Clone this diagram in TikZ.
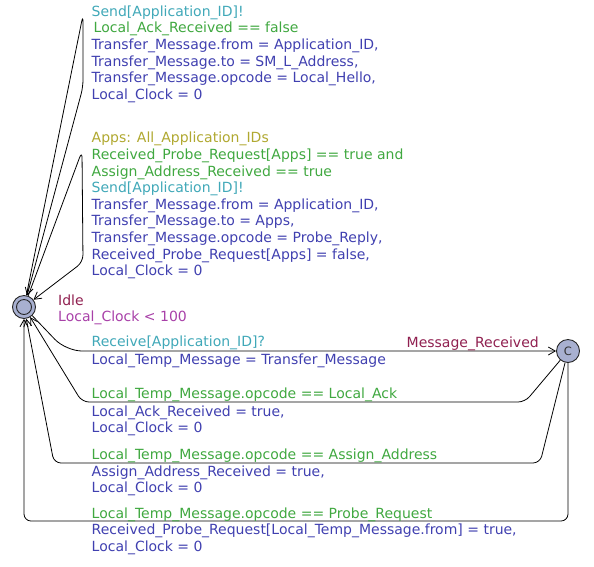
\documentclass[tikz,border=0pt]{standalone}
\usepackage{fontspec}
\setmainfont{DejaVu Sans}
\usetikzlibrary{arrows.meta}
\definecolor{csync}{RGB}{64,168,184}
\definecolor{cguard}{RGB}{64,168,64}
\definecolor{cassign}{RGB}{64,64,176}
\definecolor{csel}{RGB}{176,168,48}
\definecolor{cname}{RGB}{144,32,80}
\definecolor{cinv}{RGB}{168,64,168}
\definecolor{cloc}{RGB}{168,176,208}
\newcommand{\mylab}[5]{\node[lbl,#2,anchor=base west] (#1) at (#3,-#4) {#5};}
\begin{document}
\begin{tikzpicture}[x=1pt,y=1pt,
  lbl/.style={inner sep=0pt, font=\fontsize{14}{16}\selectfont},
  sync/.style={text=csync},
  guard/.style={text=cguard},
  assign/.style={text=cassign},
  sel/.style={text=csel},
  lname/.style={text=cname},
  inv/.style={text=cinv},
  loc/.style={circle, draw=black!85, fill=cloc, line width=0.9pt, minimum size=23pt, inner sep=0pt},
  edge/.style={draw=black, line width=0.8pt, rounded corners=7pt},
  tip/.style={-{Straight Barb[length=7pt,width=8pt]}}
]
\useasboundingbox (0,0) rectangle (594,-566);

% locations
\node[loc] (idle) at (24,-307) {};
\node[circle, draw=black!85, line width=0.9pt, minimum size=15pt, inner sep=0pt] (idlein) at (idle) {};
\node[loc, font=\fontsize{11.5}{12}\selectfont, text=black!80] (msg) at (568,-351) {C};

% edges
\draw[edge,tip] (idle) -- (83,-15) -- (83,-87) -- (idle);
\draw[edge,tip] (idle) -- (82,-151) -- (83,-262) -- (idle);
\draw[edge,tip,rounded corners=16pt] (idle) -- (66,-351) -- (msg);
\draw[edge,tip] (msg) -- (525,-402) -- (82,-402) -- (idle);
\draw[edge,tip] (msg) -- (540,-463) -- (54,-463) -- (idle);
\draw[edge,tip] (msg) -- (568,-521) -- (24,-521) -- (idle);

% loop 1 labels
\mylab{s1}{sync}{91.5}{16.7}{Send[Application\_ID]!}
\mylab{g1}{guard}{93.5}{32}{Local\_Ack\_Received == false}
\mylab{a1a}{assign}{91.5}{49.5}{Transfer\_Message.from = Application\_ID,}
\mylab{a1b}{assign}{91.5}{66.2}{Transfer\_Message.to = SM\_L\_Address,}
\mylab{a1c}{assign}{91.5}{82.9}{Transfer\_Message.opcode = Local\_Hello,}
\mylab{a1d}{assign}{91.5}{99.6}{Local\_Clock = 0}

% loop 2 labels
\mylab{p2}{sel}{91.5}{142}{Apps: All\_Application\_IDs}
\mylab{g2a}{guard}{91.5}{159}{Received\_Probe\_Request[Apps] == true and}
\mylab{g2b}{guard}{91.5}{176}{Assign\_Address\_Received == true}
\mylab{s2}{sync}{91.5}{192.5}{Send[Application\_ID]!}
\mylab{a2a}{assign}{91.5}{209}{Transfer\_Message.from = Application\_ID,}
\mylab{a2b}{assign}{91.5}{225.7}{Transfer\_Message.to = Apps,}
\mylab{a2c}{assign}{91.5}{242.4}{Transfer\_Message.opcode = Probe\_Reply,}
\mylab{a2d}{assign}{91.5}{259.1}{Received\_Probe\_Request[Apps] = false,}
\mylab{a2e}{assign}{91.5}{275.8}{Local\_Clock = 0}

% location labels
\mylab{nidle}{lname}{58}{305}{Idle}
\mylab{iidle}{inv}{58}{321.5}{Local\_Clock < 100}
\mylab{nmsg}{lname}{406.5}{347.5}{Message\_Received}

% edge 3
\mylab{s3}{sync}{91.5}{346.5}{Receive[Application\_ID]?}
\mylab{a3}{assign}{91.5}{364.3}{Local\_Temp\_Message = Transfer\_Message}

% edge 4
\mylab{g4}{guard}{91.5}{398}{Local\_Temp\_Message.opcode == Local\_Ack}
\mylab{a4a}{assign}{91.5}{416}{Local\_Ack\_Received = true,}
\mylab{a4b}{assign}{91.5}{432.8}{Local\_Clock = 0}

% edge 5
\mylab{g5}{guard}{91.5}{459.3}{Local\_Temp\_Message.opcode == Assign\_Address}
\mylab{a5a}{assign}{91.5}{476}{Assign\_Address\_Received = true,}
\mylab{a5b}{assign}{91.5}{492.7}{Local\_Clock = 0}

% edge 6
\mylab{g6}{guard}{91.5}{518.3}{Local\_Temp\_Message.opcode == Probe\_Request}
\mylab{a6a}{assign}{91.5}{534.7}{Received\_Probe\_Request[Local\_Temp\_Message.from] = true,}
\mylab{a6b}{assign}{91.5}{551.4}{Local\_Clock = 0}
\end{tikzpicture}
\end{document}
